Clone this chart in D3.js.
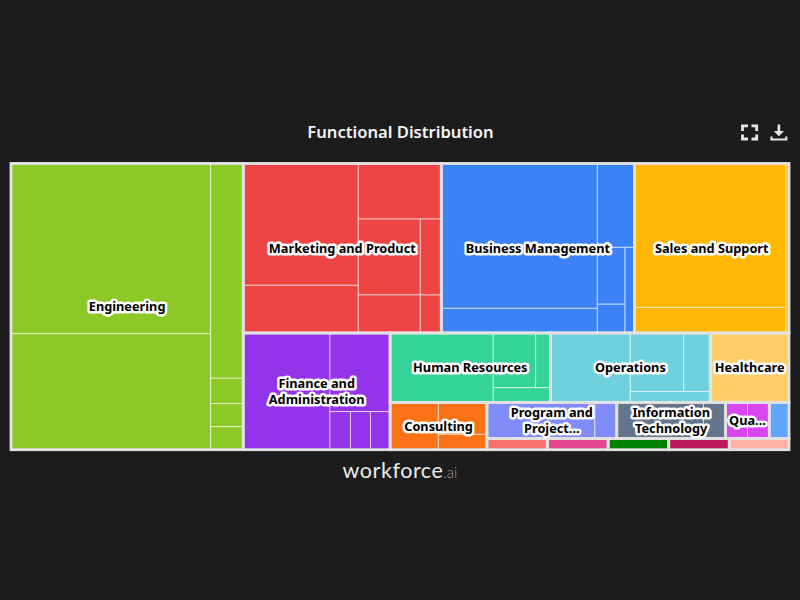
<!DOCTYPE html>
<html><head><meta charset="utf-8">
<script src="https://cdn.jsdelivr.net/npm/d3@7"></script>
<style>html,body{margin:0;padding:0;background:#1c1c1c;overflow:hidden}svg{display:block}</style>
</head><body><svg id="c" width="800" height="600"></svg>
<script>
const chartTitle = "Functional Distribution";
const brandMain = "workforce", brandSuffix = ".ai";
const categories = ["Engineering","Marketing and Product","Business Management","Sales and Support","Finance and Administration","Human Resources","Operations","Healthcare","Consulting","Program and Project Management","Information Technology","Quality Assurance","Legal","Research","Education","Logistics","Design","Security"];
const labelLines = [["Engineering"],["Marketing and Product"],["Business Management"],["Sales and Support"],["Finance and","Administration"],["Human Resources"],["Operations"],["Healthcare"],["Consulting"],["Program and","Project..."],["Information","Technology"],["Qua..."],[],[],[],[],[],[]];
const colors = ["#8CC926","#EF4444","#3B82F6","#FFB703","#9333EA","#34D399","#6FD0DE","#FFCD66","#F97316","#818CF8","#64748B","#D946EF","#60A5FA","#F87171","#E5458F","#008000","#BE185D","#FFB0A5"];
// nested value trees: 'row' lays children left to right, 'col' top to bottom
const engineering = ['row',['col',3399,2317],['col',700,82,76,75]];
const marketing = ['row',['col',1401,549],['col',461,['row',['col',471,236],['col',160,80]]]];
const business = ['row',['col',2259,385],['col',312,['row',['col',158,80],81]]];
const sales = ['row',['col',2179,389],51];
const finance = ['row',1012,['col',474,['row',78,76,75]]];
const hr = ['row',716,['col',['row',232,81],84]];
const operations = ['row',554,['col',['row',314,156],86]];
const healthcare = 546;
const consulting = ['row',228,['col',155,75]];
const program = ['row',390,79];
const it = ['row',313,80];
const quality = ['row',79,79];
const legal = 71, research = 68, education = 68, logistics = 68, design = 68, security = 67;

const groupValues = [engineering,marketing,business,sales,finance,hr,operations,healthcare,consulting,program,it,quality,legal,research,education,logistics,design,security];
const groupNode = i => ({group:i, spec:groupValues[i]});
const tree = ['row',groupNode(0),['col',['row',groupNode(1),groupNode(2),groupNode(3)],
  ['row',groupNode(4),['col',['row',groupNode(5),groupNode(6),groupNode(7)],
    ['row',groupNode(8),['col',['row',groupNode(9),groupNode(10),groupNode(11),groupNode(12)],
      ['row',groupNode(13),groupNode(14),groupNode(15),groupNode(16),groupNode(17)]]]]]]];

const wrap = (s,g) => {
  if (s && s.spec !== undefined) return Object.assign(wrap(s.spec,s.group),{group:s.group});
  if (Array.isArray(s)) return {dir:s[0],group:g,kids:s.slice(1).map(k=>wrap(k,g))};
  return {value:s,group:g};
};
const root = d3.hierarchy(wrap(tree),d=>d.kids).sum(d=>d.value||0);
d3.treemap()
  .size([778,286.2])
  .round(false)
  .tile((n,a,b,c,d)=> (n.data.dir==='row'?d3.treemapDice:d3.treemapSlice)(n,a,b,c,d))(root);

const svg = d3.select('#c');
const FONT = "'Noto Sans','Open Sans',sans-serif";
const chart = svg.append('g').attr('transform','translate(11,163.5)');
chart.append('rect').attr('x',-1).attr('y',-1).attr('width',780).attr('height',288.2).attr('fill','#e2e2e2');
const groups = root.descendants().filter(n=>n.data.group!==undefined && (n.parent===null || n.parent.data.group===undefined));
chart.selectAll('rect.leaf').data(root.leaves()).join('rect').attr('class','leaf')
  .attr('x',d=>d.x0).attr('y',d=>d.y0).attr('width',d=>d.x1-d.x0).attr('height',d=>d.y1-d.y0)
  .attr('fill',d=>colors[d.data.group]).attr('stroke','#ffffff').attr('stroke-opacity',.65).attr('stroke-width',.9);
chart.selectAll('rect.group').data(groups).join('rect').attr('class','group')
  .attr('x',d=>d.x0).attr('y',d=>d.y0).attr('width',d=>d.x1-d.x0).attr('height',d=>d.y1-d.y0)
  .attr('fill','none').attr('stroke','#e2e2e2').attr('stroke-width',2.8);
groups.forEach(g=>{
  const lines = labelLines[g.data.group]; if(!lines.length) return;
  const cx=(g.x0+g.x1)/2, cy=(g.y0+g.y1)/2, lh=16;
  const t = chart.append('text').attr('text-anchor','middle')
    .attr('font-family',FONT).attr('font-size',12.75).attr('font-weight',700)
    .attr('fill','#000').attr('stroke','#fff').attr('stroke-width',5).attr('stroke-linejoin','round')
    .style('paint-order','stroke');
  lines.forEach((s,i)=>{
    t.append('tspan').text(s).attr('x',cx).attr('y',cy+(i-(lines.length-1)/2)*lh+4.5);
  });
});
svg.append('text').text(chartTitle).attr('x',400.5).attr('y',138).attr('text-anchor','middle')
  .attr('font-family',FONT).attr('font-size',16.6).attr('font-weight',600).attr('fill','#f4f4f4');
const brand = svg.append('text').attr('x',400).attr('y',478).attr('text-anchor','middle').attr('font-family',"Lato,'Open Sans',sans-serif");
brand.append('tspan').text(brandMain).attr('font-size',21.5).attr('font-weight',400).attr('fill','#ececec').attr('letter-spacing',.55);
brand.append('tspan').text(brandSuffix).attr('font-size',15).attr('font-weight',300).attr('fill','#9a9a9a');
const icons = svg.append('g');
icons.append('path').attr('fill','none').attr('stroke','#e6e6e6').attr('stroke-width',2.8)
  .attr('d','M742.5 131V125.8H748M751.5 125.8H756.7V131M756.7 134.5V139H751.5M748 139H742.5V134.5');
icons.append('path').attr('fill','#e6e6e6')
  .attr('d','M777.6 124.5H780.2V131H784L778.9 136.2L773.8 131H777.6Z');
icons.append('path').attr('fill','#e6e6e6')
  .attr('d','M770.4 136.5H772.6V138.4H785.2V136.5H787.4V140.6H770.4Z');
</script></body></html>
